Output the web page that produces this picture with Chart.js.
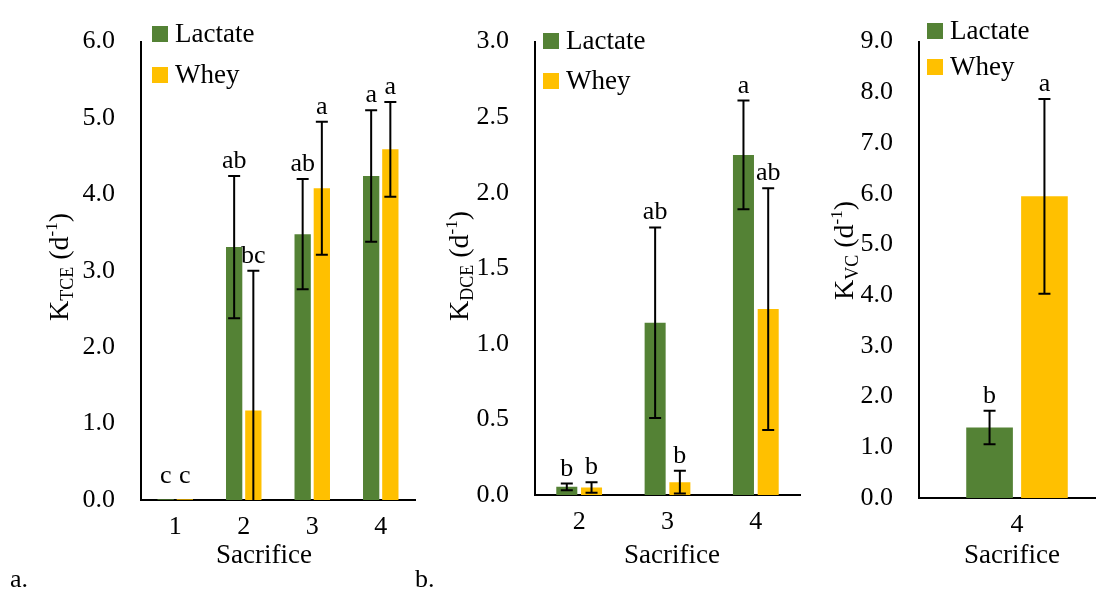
<!DOCTYPE html>
<html>
<head>
<meta charset="utf-8">
<script src="https://cdn.jsdelivr.net/npm/chart.js@4.4.1/dist/chart.umd.min.js"></script>
<style>
  html, body { margin: 0; padding: 0; background: #fff; }
  #wrap { position: relative; width: 1096px; height: 590px; overflow: hidden; background: #fff; }
  #wrap canvas { position: absolute; top: 0; }
  .tag { position: absolute; font-family: "Liberation Serif", "Times New Roman", serif; font-size: 26px; color: #000; line-height: 1; }
</style>
</head>
<body>
<div id="wrap">
  <canvas id="cA" width="420" height="590" style="left:0px"></canvas>
  <canvas id="cB" width="390" height="590" style="left:420px"></canvas>
  <canvas id="cC" width="310" height="590" style="left:810px"></canvas>
  <div class="tag" style="left:10px;top:566px">a.</div>
  <div class="tag" style="left:415px;top:566px">b.</div>
</div>
<script>
// ---- Panel a: TCE rate constants ----
const sacrificeA = ['1', '2', '3', '4'];
const lactateA = [0.01, 3.31, 3.48, 4.24];
const lactateErrA = [0, 0.93, 0.72, 0.86];
const wheyA = [0.01, 1.17, 4.08, 4.59];
const wheyErrA = [0, 1.83, 0.87, 0.62];
const lactateLettersA = ['c', 'ab', 'ab', 'a'];
const wheyLettersA = ['c', 'bc', 'a', 'a'];

// ---- Panel b: DCE rate constants ----
const sacrificeB = ['2', '3', '4'];
const lactateB = [0.054, 1.14, 2.25];
const lactateErrB = [0.022, 0.63, 0.36];
const wheyB = [0.05, 0.085, 1.23];
const wheyErrB = [0.035, 0.075, 0.80];
const lactateLettersB = ['b', 'ab', 'a'];
const wheyLettersB = ['b', 'b', 'ab'];

// ---- Panel c: VC rate constants ----
const sacrificeC = ['4'];
const lactateC = [1.39];
const lactateErrC = [0.33];
const wheyC = [5.95];
const wheyErrC = [1.92];
const lactateLettersC = ['b'];
const wheyLettersC = ['a'];

const GREEN = '#548235';
const GOLD = '#FFC000';
const SERIF = '"Liberation Serif", "Times New Roman", serif';

// Error bars, significance letters, legend and axis titles
const annotations = {
  id: 'annotations',
  afterDatasetsDraw(chart, args, o) {
    const ctx = chart.ctx;
    const ys = chart.scales.y;
    const ca = chart.chartArea;
    ctx.save();

    // error bars + letters
    chart.data.datasets.forEach((ds, di) => {
      const meta = chart.getDatasetMeta(di);
      meta.data.forEach((bar, i) => {
        const v = ds.data[i];
        const e = ds.errors[i];
        const x = bar.x;
        const yTop = ys.getPixelForValue(v + e);
        if (e > 0) {
          const low = v - e;
          const yBot = ys.getPixelForValue(Math.max(low, 0));
          ctx.strokeStyle = '#000';
          ctx.lineWidth = 2;
          ctx.beginPath();
          ctx.moveTo(x, yTop); ctx.lineTo(x, yBot);
          ctx.moveTo(x - 6, yTop); ctx.lineTo(x + 6, yTop);
          if (low >= 0) { ctx.moveTo(x - 6, yBot); ctx.lineTo(x + 6, yBot); }
          ctx.stroke();
        }
        ctx.fillStyle = '#000';
        ctx.font = '26px ' + SERIF;
        ctx.textAlign = 'center';
        ctx.textBaseline = 'alphabetic';
        ctx.fillText(ds.letters[i], x, yTop - (e > 0 ? 8 : 16));
      });
    });

    // legend
    const lg = o.legend;
    chart.data.datasets.forEach((ds, di) => {
      const cy = lg.y[di];
      const lx = ca.left + lg.dx;
      ctx.fillStyle = ds.backgroundColor;
      ctx.fillRect(lx, cy - 8, 16, 16);
      ctx.fillStyle = '#000';
      ctx.font = '27px ' + SERIF;
      ctx.textAlign = 'left';
      ctx.textBaseline = 'middle';
      ctx.fillText(ds.label, lx + 23, cy + 1);
    });

    // x-axis title
    ctx.font = '27px ' + SERIF;
    ctx.textAlign = 'center';
    ctx.textBaseline = 'middle';
    ctx.fillStyle = '#000';
    ctx.fillText('Sacrifice', o.xTitle.x, o.xTitle.y);

    // y-axis title with subscript and superscript, rotated
    const t = o.yTitle;
    ctx.translate(ca.left + t.dx, t.startY);
    ctx.rotate(-Math.PI / 2);
    ctx.textAlign = 'left';
    ctx.textBaseline = 'alphabetic';
    const parts = [
      { s: 'K', f: 28, dy: 0 },
      { s: t.sub, f: 18, dy: 5 },
      { s: ' (d', f: 28, dy: 0 },
      { s: '-1', f: 17, dy: -11 },
      { s: ')', f: 28, dy: 0 }
    ];
    let px = 0;
    parts.forEach(p => {
      ctx.font = p.f + 'px ' + SERIF;
      ctx.fillText(p.s, px, p.dy);
      px += ctx.measureText(p.s).width;
    });
    ctx.restore();
  }
};

function makeChart(id, cfg) {
  return new Chart(document.getElementById(id), {
    type: 'bar',
    data: {
      labels: cfg.labels,
      datasets: [
        { label: 'Lactate', data: cfg.lactate, errors: cfg.lactateErr, letters: cfg.lactateLetters,
          backgroundColor: GREEN, categoryPercentage: 0.56, barPercentage: 0.85 },
        { label: 'Whey', data: cfg.whey, errors: cfg.wheyErr, letters: cfg.wheyLetters,
          backgroundColor: GOLD, categoryPercentage: 0.56, barPercentage: 0.85 }
      ]
    },
    options: {
      responsive: false,
      animation: false,
      layout: { padding: { top: cfg.top, right: cfg.right, left: 0, bottom: 0 } },
      plugins: {
        legend: { display: false },
        tooltip: { enabled: false },
        annotations: { legend: cfg.legend, xTitle: cfg.xTitle, yTitle: cfg.yTitle }
      },
      scales: {
        x: {
          grid: { display: false, drawTicks: false },
          border: { color: '#000', width: 2 },
          ticks: { color: '#000', font: { family: SERIF, size: 26 }, padding: 12, maxRotation: 0 },
          afterFit(s) { s.height = cfg.xHeight; }
        },
        y: {
          min: 0, max: cfg.max,
          grid: { display: false, drawTicks: false },
          border: { color: '#000', width: 2 },
          ticks: { stepSize: cfg.step, color: '#000', font: { family: SERIF, size: 26 }, padding: 26,
                   callback: v => Number(v).toFixed(1) },
          afterFit(s) { s.width = cfg.yWidth; }
        }
      }
    },
    plugins: [annotations]
  });
}

makeChart('cA', {
  labels: sacrificeA, lactate: lactateA, lactateErr: lactateErrA, lactateLetters: lactateLettersA,
  whey: wheyA, wheyErr: wheyErrA, wheyLetters: wheyLettersA,
  max: 6, step: 1, top: 28, right: 5, xHeight: 90, yWidth: 141,
  legend: { dx: 11, y: [34, 75] },
  xTitle: { x: 264, y: 556 },
  yTitle: { dx: -73, startY: 321, sub: 'TCE' }
});

makeChart('cB', {
  labels: sacrificeB, lactate: lactateB, lactateErr: lactateErrB, lactateLetters: lactateLettersB,
  whey: wheyB, wheyErr: wheyErrB, wheyLetters: wheyLettersB,
  max: 3, step: 0.5, top: 30, right: 10, xHeight: 95, yWidth: 115,
  legend: { dx: 8, y: [41, 81] },
  xTitle: { x: 252, y: 556 },
  yTitle: { dx: -67, startY: 321, sub: 'DCE' }
});

makeChart('cC', {
  labels: sacrificeC, lactate: lactateC, lactateErr: lactateErrC, lactateLetters: lactateLettersC,
  whey: wheyC, wheyErr: wheyErrC, wheyLetters: wheyLettersC,
  max: 9, step: 1, top: 28, right: 5, xHeight: 92, yWidth: 109,
  legend: { dx: 8, y: [31, 67] },
  xTitle: { x: 202, y: 556 },
  yTitle: { dx: -66, startY: 300, sub: 'VC' }
});
</script>
</body>
</html>
